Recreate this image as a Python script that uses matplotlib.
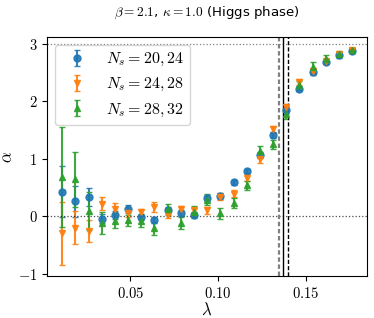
import matplotlib
matplotlib.use('Agg')
import matplotlib.pyplot as plt

plt.rcParams['mathtext.fontset'] = 'cm'

# lambda values
lam = [0.01125, 0.01875, 0.02625, 0.03375, 0.04125, 0.04875, 0.05625, 0.06375,
       0.07125, 0.07875, 0.08625, 0.09375, 0.10125, 0.10875, 0.11625, 0.12375,
       0.13125, 0.13875, 0.14625, 0.15375, 0.16125, 0.16875, 0.17625]

# N_s = 20, 24
a1 = [0.43, 0.26, 0.33, -0.04, 0.02, 0.12, -0.01, -0.06, 0.11, 0.06, 0.03, 0.32,
      0.35, 0.59, 0.79, 1.06, 1.41, 1.84, 2.22, 2.51, 2.68, 2.80, 2.87]
e1 = [0.45, 0.27, 0.16, 0.08, 0.07, 0.07, 0.05, 0.05, 0.05, 0.05, 0.04, 0.05,
      0.05, 0.04, 0.04, 0.05, 0.05, 0.06, 0.05, 0.05, 0.04, 0.04, 0.03]

# N_s = 24, 28
a2 = [-0.30, -0.20, -0.26, 0.22, 0.13, 0.05, 0.07, 0.16, 0.02, 0.12, 0.10, 0.10,
      0.34, 0.39, 0.67, 0.99, 1.51, 1.90, 2.34, 2.53, 2.70, 2.82, 2.90]
e2 = [0.55, 0.29, 0.19, 0.12, 0.10, 0.07, 0.06, 0.08, 0.05, 0.05, 0.05, 0.06,
      0.06, 0.06, 0.06, 0.07, 0.06, 0.06, 0.05, 0.04, 0.04, 0.03, 0.03]

# N_s = 28, 32
a3 = [0.68, 0.64, 0.09, -0.12, -0.08, -0.07, -0.08, -0.21, 0.12, -0.12, 0.07, 0.29,
      0.05, 0.23, 0.54, 1.13, 1.25, 1.77, 2.28, 2.59, 2.74, 2.83, 2.89]
e3 = [0.87, 0.48, 0.33, 0.19, 0.13, 0.10, 0.10, 0.11, 0.10, 0.10, 0.10, 0.10,
      0.10, 0.08, 0.08, 0.10, 0.08, 0.08, 0.08, 0.10, 0.06, 0.05, 0.04]

labels = [r'$N_s = 20, 24$', r'$N_s = 24, 28$', r'$N_s = 28, 32$']
xticks = [0.05, 0.10, 0.15]
yticks = [-1, 0, 1, 2, 3]
lam_c = 0.137
lam_err = 0.0025

fig = plt.figure(figsize=(3.74, 3.18), dpi=100)
ax = fig.add_axes([0.126, 0.132, 0.855, 0.752])

ax.errorbar(lam, a1, yerr=e1, fmt='o', color='tab:blue', ms=5, capsize=2, label=labels[0], alpha=0.9)
ax.errorbar(lam, a2, yerr=e2, fmt='v', color='tab:orange', ms=5, capsize=2, label=labels[1], alpha=0.9)
ax.errorbar(lam, a3, yerr=e3, fmt='^', color='tab:green', ms=5, capsize=2, label=labels[2], alpha=0.9)

ax.axhline(0, color='k', ls=':', lw=0.9, alpha=0.7)
ax.axhline(3, color='k', ls=':', lw=0.9, alpha=0.5)
ax.axvline(lam_c - lam_err, color='gray', ls='--', lw=1.6, dashes=(2, 1.2))
ax.axvline(lam_c, color='k', ls='-', lw=1)
ax.axvline(lam_c + lam_err, color='k', ls='--', lw=1, dashes=(3, 1.5))

ax.set_xlim(0.0027, 0.1846)
ax.set_ylim(-1.04, 3.12)
ax.set_xticks(xticks)
ax.set_xticklabels([r'$%.2f$' % v for v in xticks])
ax.set_yticks(yticks)
ax.set_yticklabels([r'$%d$' % v for v in yticks])
ax.tick_params(labelsize=10.5)
ax.set_xlabel(r'$\lambda$', fontsize=12, labelpad=0)
ax.set_ylabel(r'$\alpha$', fontsize=12)
ax.yaxis.set_label_coords(-0.095, 0.5)
ax.set_title(r'$\beta = 2.1$, $\kappa = 1.0$ (Higgs phase)', fontsize=9.6, pad=15)
ax.legend(loc='upper left', fontsize=11.5)

fig.savefig('out.png', dpi=100)
